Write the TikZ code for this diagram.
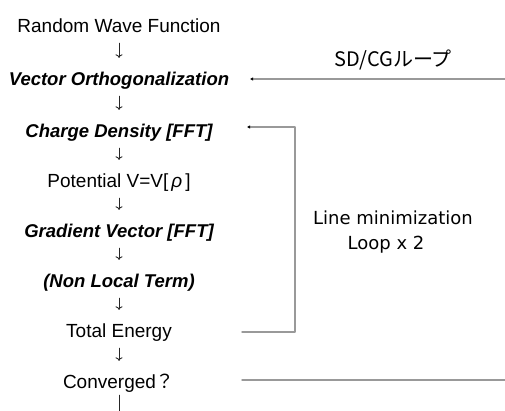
\documentclass[tikz,border=0pt]{standalone}
\usepackage{fontspec}
\setmainfont{Liberation Sans}
\newfontfamily\jpfont{Noto Sans CJK JP}
\newfontfamily\lmfont{DejaVu Sans}
\usetikzlibrary{arrows.meta}

\begin{document}
\begin{tikzpicture}[line cap=round,line join=round,x=1pt,y=-1pt,
    stepnode/.style={anchor=base,inner sep=0pt,text height=14pt,text depth=4pt,
        font=\fontsize{19}{21}\selectfont},
    stepital/.style={stepnode,font=\fontsize{18.5}{21}\selectfont\bfseries\itshape},
    down/.style={-{To[length=3.5pt,width=7pt]},line width=0.9pt,black!85,
        shorten <=7pt,shorten >=13pt},
    loopline/.style={draw=black!40,line width=1.4pt},
    looptip/.style={-{Latex[length=3pt,width=3.5pt,black]}}]
	\useasboundingbox (0,0) rectangle (505,410);
	% main column
	\node[stepnode] (rwf) at (119,32) {Random Wave Function};
	\node[stepital] (vo) at (119,85) {Vector Orthogonalization};
	\node[stepital] (cd) at (119,137) {Charge Density [FFT]};
	\node[stepnode] (pot) at (119,187) {Potential V=V[\hspace{3pt}\textit{ρ}\hspace{3pt}]};
	\node[stepital] (gv) at (119,237) {Gradient Vector [FFT]};
	\node[stepital] (nl) at (119,287) {(Non Local Term)};
	\node[stepnode] (te) at (119,337) {Total Energy};
	\node[stepnode] (cv) at (119,388) {Converged{\jpfont ？}};
	\coordinate (bot) at (119,412);
	% arrows
	\draw[down] (rwf) -- (vo);
	\draw[down] (vo) -- (cd);
	\draw[down] (cd) -- (pot);
	\draw[down] (pot) -- (gv);
	\draw[down] (gv) -- (nl);
	\draw[down] (nl) -- (te);
	\draw[down] (te) -- (cv);
	\draw[line width=0.9pt,black!85,shorten <=3pt] (cv) -- (bot);
	% SD/CG loop
	\coordinate (sdR) at (505,79);
	\coordinate (sdL) at (250,79);
	\draw[loopline,looptip] (sdR) -- (sdL);
	\node[font=\jpfont\fontsize{20}{22}\selectfont] (sdlab) at (393,60) {SD/CGループ};
	% line minimization
	\coordinate (teR) at (242,332);
	\coordinate (lmB) at (295,332);
	\coordinate (lmT) at (295,127);
	\coordinate (cdR) at (247,127);
	\draw[loopline,looptip] (teR) -- (lmB) -- (lmT) -- (cdR);
	\node[font=\lmfont\fontsize{18}{20}\selectfont,anchor=base] (lm1) at (393,224) {Line minimization};
	\node[font=\lmfont\fontsize{18}{20}\selectfont,anchor=base] (lm2) at (386,249) {Loop x 2};
	% converged
	\coordinate (cvL) at (242,380);
	\coordinate (cvR) at (505,380);
	\draw[loopline] (cvL) -- (cvR);
\end{tikzpicture}
\end{document}
